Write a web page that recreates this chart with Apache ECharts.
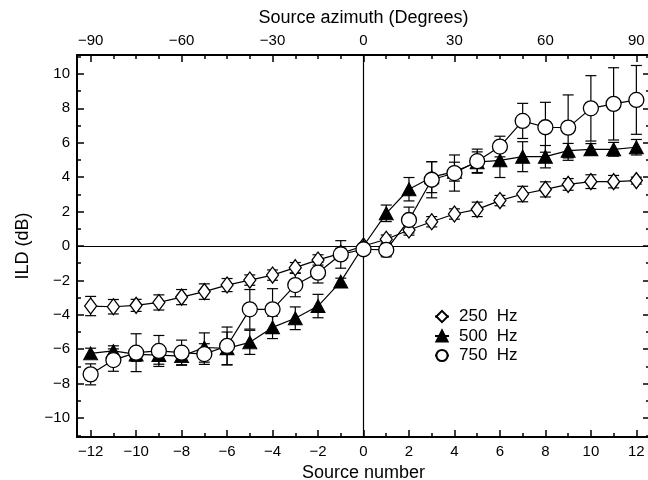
<!DOCTYPE html>
<html>
<head>
<meta charset="utf-8">
<script src="https://cdn.jsdelivr.net/npm/echarts@6/dist/echarts.min.js"></script>
<style>html,body{margin:0;padding:0;background:#fff}#c{width:648px;height:480px}</style>
</head>
<body>
<div id="c"></div>
<script>
// ---- data ----
const sources = [-12,-11,-10,-9,-8,-7,-6,-5,-4,-3,-2,-1,0,1,2,3,4,5,6,7,8,9,10,11,12];
const ild250 = [-3.49,-3.53,-3.45,-3.28,-2.97,-2.65,-2.27,-1.98,-1.69,-1.26,-0.81,-0.43,0,0.39,0.93,1.41,1.86,2.13,2.64,3.02,3.29,3.58,3.74,3.74,3.8];
const err250 = [0.56,0.42,0.35,0.44,0.44,0.45,0.38,0.3,0.3,0.3,0.3,0.3,0,0.25,0.3,0.3,0.3,0.42,0.3,0.45,0.44,0.34,0.4,0.36,0.2];
const ild500 = [-6.24,-6.1,-6.3,-6.34,-6.4,-5.9,-5.95,-5.6,-4.73,-4.2,-3.49,-2.07,0,1.9,3.3,4.0,4.32,4.87,4.98,5.19,5.19,5.54,5.62,5.62,5.74];
const err500 = [0.3,0.3,0.4,0.53,0.5,0.85,0.95,0.7,0.65,0.66,0.68,0.2,0,0.48,0.68,0.9,0.55,0.6,1.0,0.87,0.65,0.42,0.33,0.4,0.45];
const ild750 = [-7.46,-6.63,-6.2,-6.1,-6.2,-6.28,-5.81,-3.68,-3.68,-2.27,-1.55,-0.49,-0.19,-0.23,1.51,3.85,4.24,4.93,5.78,7.27,6.9,6.88,8.0,8.26,8.49];
const err750 = [0.61,0.65,1.1,0.9,0.73,0.6,1.1,1.15,1.2,0.68,0.6,0.8,0.2,0.4,0.75,1.05,1.05,0.7,0.6,1.02,1.45,1.9,1.9,2.1,2.0];
const names = ['250  Hz','500  Hz','750  Hz'];
// ---- ticks ----
const xMajor = [-12,-10,-8,-6,-4,-2,0,2,4,6,8,10,12];
const xMinor = [-11,-9,-7,-5,-3,-1,1,3,5,7,9,11];
const yMajor = [-10,-8,-6,-4,-2,0,2,4,6,8,10];
const yMinor = [-11,-9,-7,-5,-3,-1,1,3,5,7,9,11];
const degMajor = [-90,-60,-30,0,30,60,90];
const degMinor = [-82.5,-75,-67.5,-52.5,-45,-37.5,-22.5,-15,-7.5,7.5,15,22.5,37.5,45,52.5,67.5,75,82.5];

const FONT = '"Liberation Sans",sans-serif';
const XMIN = -12.6, XMAX = 12.6, YMIN = -11.1, YMAX = 11.1;
const fmt = v => String(v).replace('-', '\u2212');

function pairs(ys){ return sources.map((s,i)=>[s, ys[i]]); }
function errData(ys, es){ return sources.map((s,i)=>[s, ys[i], es[i]]); }

function renderErr(params, api){
  const x = api.value(0), y = api.value(1), e = api.value(2);
  if (!e) return null;
  const t = api.coord([x, y+e]), b = api.coord([x, y-e]);
  const hw = 5.5;
  const st = {stroke:'#000', lineWidth:1.2};
  return {type:'group', children:[
    {type:'line', shape:{x1:t[0],y1:t[1],x2:b[0],y2:b[1]}, style:st},
    {type:'line', shape:{x1:t[0]-hw,y1:t[1],x2:t[0]+hw,y2:t[1]}, style:st},
    {type:'line', shape:{x1:b[0]-hw,y1:b[1],x2:b[0]+hw,y2:b[1]}, style:st}
  ]};
}

const lineAx = {show:true, onZero:false, lineStyle:{color:'#000', width:2}};
const noLine = {show:false, onZero:false};

const option = {
  animation:false,
  backgroundColor:'#fff',
  textStyle:{fontFamily:FONT},
  grid:{left:77, top:55, width:573, height:382, containLabel:false, outerBoundsMode:'none'},
  legend:{
    orient:'vertical', left:429, top:303, itemWidth:14, itemHeight:14, itemGap:2.5,
    data:names, textStyle:{fontFamily:FONT, fontSize:17, color:'#000', padding:[0,0,0,5]},
    selectedMode:false
  },
  xAxis:[
    {type:'value', min:XMIN, max:XMAX, position:'bottom', name:'Source number', nameLocation:'middle', nameGap:22,
     nameTextStyle:{fontSize:18, color:'#000', fontFamily:FONT},
     axisLine:lineAx, splitLine:{show:false},
     axisTick:{show:true, inside:true, length:7, lineStyle:{color:'#000', width:1.5}, customValues:xMajor},
     axisLabel:{show:true, customValues:xMajor, formatter:fmt, fontSize:15, color:'#000', margin:7, fontFamily:FONT}},
    {type:'value', min:XMIN, max:XMAX, position:'bottom', gridIndex:0,
     axisLine:noLine, splitLine:{show:false}, axisLabel:{show:false},
     axisTick:{show:true, inside:true, length:4, lineStyle:{color:'#000', width:1.5}, customValues:xMinor}},
    {type:'value', min:XMIN*7.5, max:XMAX*7.5, position:'top', name:'Source azimuth (Degrees)', nameLocation:'middle', nameGap:28,
     nameTextStyle:{fontSize:18, color:'#000', fontFamily:FONT},
     axisLine:lineAx, splitLine:{show:false},
     axisTick:{show:true, inside:true, length:7, lineStyle:{color:'#000', width:1.5}, customValues:degMajor},
     axisLabel:{show:true, customValues:degMajor, formatter:fmt, fontSize:15, color:'#000', margin:7, fontFamily:FONT}},
    {type:'value', min:XMIN*7.5, max:XMAX*7.5, position:'top',
     axisLine:noLine, splitLine:{show:false}, axisLabel:{show:false},
     axisTick:{show:true, inside:true, length:4, lineStyle:{color:'#000', width:1.5}, customValues:degMinor}}
  ],
  yAxis:[
    {type:'value', min:YMIN, max:YMAX, position:'left', name:'ILD (dB)', nameLocation:'middle', nameGap:45,
     nameTextStyle:{fontSize:18, color:'#000', fontFamily:FONT},
     axisLine:lineAx, splitLine:{show:false},
     axisTick:{show:true, inside:true, length:7, lineStyle:{color:'#000', width:1.5}, customValues:yMajor},
     axisLabel:{show:true, customValues:yMajor, formatter:fmt, fontSize:15, color:'#000', margin:7, fontFamily:FONT}},
    {type:'value', min:YMIN, max:YMAX, position:'left',
     axisLine:noLine, splitLine:{show:false}, axisLabel:{show:false},
     axisTick:{show:true, inside:true, length:4, lineStyle:{color:'#000', width:1.5}, customValues:yMinor}},
    {type:'value', min:YMIN, max:YMAX, position:'right',
     axisLine:lineAx, splitLine:{show:false}, axisLabel:{show:false},
     axisTick:{show:true, inside:true, length:7, lineStyle:{color:'#000', width:1.5}, customValues:yMajor}},
    {type:'value', min:YMIN, max:YMAX, position:'right',
     axisLine:noLine, splitLine:{show:false}, axisLabel:{show:false},
     axisTick:{show:true, inside:true, length:4, lineStyle:{color:'#000', width:1.5}, customValues:yMinor}}
  ],
  series:[
    {type:'custom', name:'err250', renderItem:renderErr, data:errData(ild250, err250), z:2, silent:true,
     encode:{x:0, y:1},
     markLine:{silent:true, symbol:'none', label:{show:false}, lineStyle:{color:'#000', width:1.2, type:'solid'},
       data:[{yAxis:0},{xAxis:0}]}},
    {type:'custom', name:'err500', renderItem:renderErr, data:errData(ild500, err500), z:2, silent:true, encode:{x:0, y:1}},
    {type:'custom', name:'err750', renderItem:renderErr, data:errData(ild750, err750), z:2, silent:true, encode:{x:0, y:1}},
    {type:'line', name:names[0], data:pairs(ild250), z:3, symbol:'diamond', symbolSize:[12,16],
     lineStyle:{color:'#000', width:1.2}, itemStyle:{color:'#fff', borderColor:'#000', borderWidth:1.3}},
    {type:'line', name:names[1], data:pairs(ild500), z:4, symbol:'triangle', symbolSize:[14,13],
     lineStyle:{color:'#000', width:1.2}, itemStyle:{color:'#000', borderColor:'#000', borderWidth:1}},
    {type:'line', name:names[2], data:pairs(ild750), z:5, symbol:'circle', symbolSize:15,
     lineStyle:{color:'#000', width:1.2}, itemStyle:{color:'#fff', borderColor:'#000', borderWidth:1.3}}
  ]
};
const chart = echarts.init(document.getElementById('c'), null, {renderer:'canvas'});
chart.setOption(option);
</script>
</body>
</html>
